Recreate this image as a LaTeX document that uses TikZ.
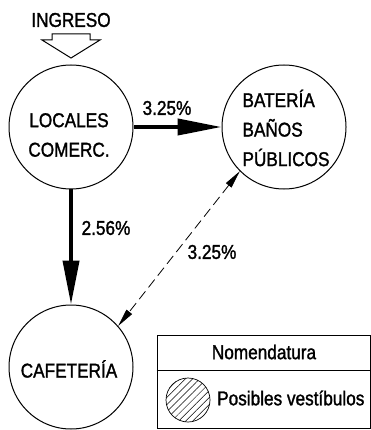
\documentclass[tikz,border=0pt]{standalone}
\usepackage{fontspec}
\setmainfont{Liberation Sans}
\newfontfamily\cadfont{Liberation Sans}[FakeStretch=0.86, FakeBold=1.4]
\usetikzlibrary{arrows.meta,patterns.meta}

\begin{document}
\begin{tikzpicture}[x=1pt, y=-1pt,
    zone/.style={circle, draw, line width=1pt, minimum size=124pt, inner sep=0pt},
    tag/.style={font=\cadfont\fontsize{20}{29.5}\selectfont, align=center, inner sep=0pt},
    flow/.style={-{Triangle[length=44pt,width=16pt]}, line width=4pt},
    link/.style={{Triangle[length=18pt,width=7pt]}-{Triangle[length=18pt,width=7pt]}, line width=0.8pt, dash pattern=on 10pt off 5pt},
    vest/.style={circle, draw, line width=0.7pt, minimum size=44pt, inner sep=0pt, pattern={Lines[angle=45,distance=5pt,line width=0.5pt]}}
]
\useasboundingbox (0,0) rectangle (371,430);

% Entrance
\node[tag] (ingreso) at (71,20) {INGRESO};
\draw[line width=1pt, line join=miter] (52,34) -- (90,34) -- (90,40) -- (100,40) -- (71,58) -- (42,40) -- (52,40) -- cycle;

% Zones
\node[zone] (loc) at (71,127) {};
\node[tag] (loctxt) at (69,135) {LOCALES\\COMERC.};

\node[zone] (bat) at (284,127) {};
\node[tag, align=left] (battxt) at (286,128) {BATERÍA\\BAÑOS\\PÚBLICOS};

\node[zone] (caf) at (71,367) {};
\node[tag] (caftxt) at (69,369) {CAFETERÍA};

% Flows
\draw[flow] (loc.east) -- (bat.west);
\node[tag] (p1) at (167,108) {3.25\%};

\draw[flow] (loc.south) -- (caf.north);
\node[tag] (p2) at (106,228) {2.56\%};

\draw[link] (bat.225) -- (caf.41);
\node[tag] (p3) at (212,252) {3.25\%};

% Legend
\node[draw, line width=1pt, minimum width=213pt, minimum height=93pt, inner sep=0pt] (leg) at (263.5,381.5) {};
\draw[line width=1pt] (leg.west |- 0,370) coordinate (dl) -- (leg.east |- dl);
\node[tag] (legtit) at (264,352) {Nomendatura};
\node[vest] (vsym) at (188,400) {};
\node[tag, anchor=west] (vtxt) at (217,398) {Posibles vestíbulos};

\end{tikzpicture}
\end{document}
